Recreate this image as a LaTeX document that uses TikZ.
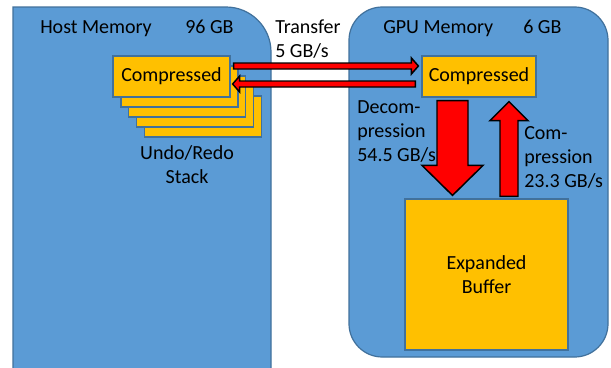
\documentclass[tikz,border=0pt]{standalone}
\usepackage{fontspec}
\setmainfont{Carlito}
\usetikzlibrary{calc}
\definecolor{memblue}{HTML}{5B9BD5}
\definecolor{memedge}{HTML}{41719C}
\definecolor{bufyellow}{HTML}{FFC000}
\begin{document}
\begin{tikzpicture}[x=0.75pt,y=-0.75pt,font=\fontsize{15}{18}\selectfont,
  mem/.style={fill=memblue,draw=memedge,line width=0.9pt},
  buf/.style={fill=bufyellow,draw=memedge,line width=0.9pt,inner sep=0pt},
  cbox/.style={buf,minimum width=87.75pt,minimum height=30.75pt},
  redarrow/.style={fill=red,draw=black,line width=1.1pt,line join=miter},
  lbl/.style={inner sep=0pt,anchor=base west,align=left}]
\useasboundingbox (0,0) rectangle (611,368);
\fill[white] (0,0) rectangle (611,368);
\begin{scope}
\clip (0,0) rectangle (611,368);
\draw[mem] (13,380) -- (13,7) -- (226,7) arc[start angle=90,end angle=0,radius=33.75pt] -- (271,380);
\end{scope}
\draw[mem,rounded corners=25pt] (349,7) rectangle (608,357);
% labels
\node[lbl] (hostlbl) at (40,33) {Host Memory};
\node[lbl] (hostsize) at (185,33) {96 GB};
\node[lbl] (gpulbl) at (383,33) {GPU Memory};
\node[lbl] (gpusize) at (523,33) {6 GB};
\node[lbl] (transfer) at (275,57) {Transfer\\5 GB/s};
% stack
\foreach \k in {4,3,2,1} \node[cbox] (stack\k) at ($(171.5,76.5)+(7.9*\k,10*\k)$) {};
\node[cbox] (hostc) at (171.5,76.5) {Compressed};
\node[inner sep=0pt,anchor=base,align=center] (undo) at (187,183) {Undo/Redo\\Stack};
% gpu
\node[buf,minimum width=85.5pt,minimum height=30.75pt] (gpuc) at (479,76.5) {Compressed};
\node[buf,minimum width=122.25pt,minimum height=113.25pt,align=center] (buffer) at (486.5,274.5) {Expanded\\Buffer};
\node[lbl] (decomp) at (357,161) {Decom-\\pression\\54.5 GB/s};
\node[lbl] (comp) at (524,187) {Com-\\pression\\23.3 GB/s};
% transfer arrows
\coordinate (t1) at ($(hostc.east)+(3,-10.5)$);
\coordinate (t2) at ($(gpuc.west)+(-3,-10.5)$);
\draw[redarrow] ($(t1)+(0,-3)$) -- ($(t2)+(-7,-3)$) -- ($(t2)+(-7,-8)$) -- (t2) -- ($(t2)+(-7,8)$) -- ($(t2)+(-7,3)$) -- ($(t1)+(0,3)$) -- cycle;
\coordinate (b1) at ($(gpuc.west)+(-6,7.5)$);
\coordinate (b2) at ($(hostc.east)+(2,7.5)$);
\draw[redarrow] ($(b1)+(0,-3)$) -- ($(b2)+(7,-3)$) -- ($(b2)+(7,-8)$) -- (b2) -- ($(b2)+(7,8)$) -- ($(b2)+(7,3)$) -- ($(b1)+(0,3)$) -- cycle;
% decompression arrow
\coordinate (d1) at ($(gpuc.south)+(-26.5,3)$);
\coordinate (d2) at ($(d1|-buffer.north)+(0,-3)$);
\draw[redarrow] ($(d1)+(-15.5,0)$) -- ($(d2)+(-15.5,-30)$) -- ($(d2)+(-30.5,-30)$) -- (d2) -- ($(d2)+(30.5,-30)$) -- ($(d2)+(15.5,-30)$) -- ($(d1)+(15.5,0)$) -- cycle;
% compression arrow
\coordinate (u1) at ($(buffer.north)+(22.5,-2)$);
\coordinate (u2) at ($(u1|-gpuc.south)+(0,4)$);
\draw[redarrow] ($(u1)+(-9,0)$) -- ($(u2)+(-9,19)$) -- ($(u2)+(-19,19)$) -- (u2) -- ($(u2)+(19,19)$) -- ($(u2)+(9,19)$) -- ($(u1)+(9,0)$) -- cycle;
\end{tikzpicture}
\end{document}
